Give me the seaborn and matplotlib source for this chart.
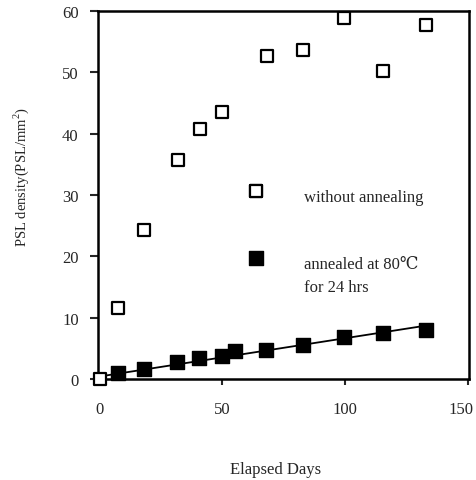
import matplotlib
matplotlib.use("Agg")
from matplotlib import pyplot as plt
from matplotlib.transforms import ScaledTranslation
import pandas as pd
import seaborn as sns

# days elapsed and PSL density
days_raw = [0.3, 7.6, 18.4, 31.9, 40.9, 50.0, 63.7, 68.2, 83.1, 99.8, 115.6, 133.2]
psl_raw = [0.0, 11.6, 24.3, 35.7, 40.7, 43.5, 30.6, 52.7, 53.7, 58.8, 50.3, 57.8]

days_annealed = [7.6, 18.3, 31.6, 40.8, 50.0, 55.1, 68.0, 83.0, 99.8, 115.5, 132.9]
psl_annealed = [0.9, 1.6, 2.7, 3.4, 3.8, 4.5, 4.8, 5.6, 6.85, 7.45, 8.05]

# straight line drawn through the annealed points
fit_days = [0, 133]
fit_psl = [0.4, 8.7]

# key markers placed inside the plot
key_days = [63.8, 63.8]
key_psl = [30.6, 19.7]

x_ticks = [0, 50, 100, 150]
y_ticks = [0, 10, 20, 30, 40, 50, 60]

sns.set_style("ticks")
plt.rcParams["font.family"] = ["Liberation Serif", "DejaVu Serif"]
plt.rcParams["mathtext.fontset"] = "custom"
plt.rcParams["mathtext.rm"] = "Liberation Serif"

fig = plt.figure(figsize=(4.76, 4.81), dpi=100)
ax = fig.add_axes([0.206, 0.210, 0.779, 0.765])

raw = pd.DataFrame({"days": days_raw, "psl": psl_raw})
annealed = pd.DataFrame({"days": days_annealed, "psl": psl_annealed})
fit = pd.DataFrame({"days": fit_days, "psl": fit_psl})

sns.lineplot(data=fit, x="days", y="psl", color="black", linewidth=1.3, ax=ax)
sns.scatterplot(data=annealed, x="days", y="psl", marker="s", s=100, color="black",
                edgecolor="black", linewidth=1, ax=ax, zorder=3, clip_on=False)
sns.scatterplot(data=raw, x="days", y="psl", marker="s", s=80, facecolor="white",
                edgecolor="black", linewidth=1.6, ax=ax, zorder=4, clip_on=False)

# the little key: open square then filled square
ax.scatter(key_days[:1], key_psl[:1], marker="s", s=80, facecolor="white",
           edgecolor="black", linewidth=1.6, zorder=4)
ax.scatter(key_days[1:], key_psl[1:], marker="s", s=100, color="black", zorder=4)
ax.text(83.2, 29.7, "without annealing", fontsize=12, va="center", ha="left")
ax.text(83.2, 18.8, "annealed at 80\u2103", fontsize=12, va="center", ha="left")
ax.text(83.2, 15.0, "for 24 hrs", fontsize=12, va="center", ha="left")

ax.set_xlim(-0.5, 150.5)
ax.set_ylim(0, 60)
ax.set_xticks(x_ticks)
ax.set_yticks(y_ticks)
ax.tick_params(axis="y", length=6, width=1.5, pad=8, labelsize=12)
ax.tick_params(axis="x", length=4, width=1.5, pad=12, labelsize=12)
for side in ["left", "right", "top", "bottom"]:
    ax.spines[side].set_visible(True)
    ax.spines[side].set_linewidth(1.8)
    ax.spines[side].set_color("black")

# last x label sits right at the figure edge, nudge it in a little
last = ax.get_xticklabels()[-1]
last.set_transform(last.get_transform() + ScaledTranslation(-5 / 72, 0, fig.dpi_scale_trans))

ax.set_xlabel("")
ax.set_ylabel("")
fig.text(0.578, 0.023, "Elapsed Days", fontsize=12, ha="center", va="center")
fig.text(0.044, 0.632, "PSL density(PSL/mm$^2$)", fontsize=10.5, ha="center", va="center",
         rotation=90)

fig.savefig("out.png", dpi=100)
